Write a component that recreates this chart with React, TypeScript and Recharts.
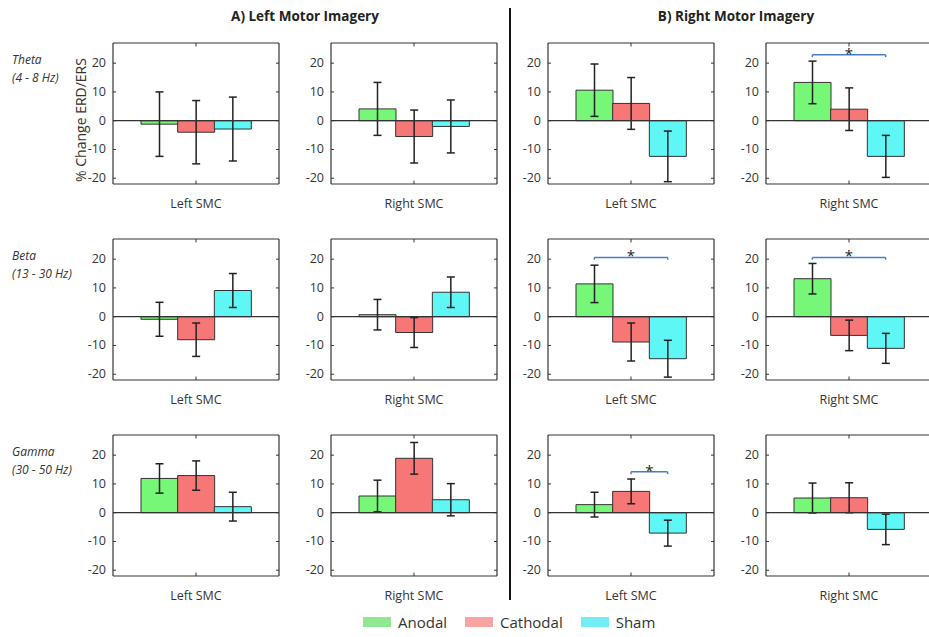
import React from 'react';
import { BarChart, Bar, XAxis, YAxis, Cell, ErrorBar, ReferenceLine } from 'recharts';

const conditions = ['Anodal', 'Cathodal', 'Sham'];
const barColors = ['#77f777', '#f77777', '#5ff6f6'];
const legendColors = ['#90e890', '#f9a3a3', '#72edf5'];

const bandNames = ['Theta', 'Beta', 'Gamma'];
const bandRanges = ['(4 - 8 Hz)', '(13 - 30 Hz)', '(30 - 50 Hz)'];
const regions = ['Left SMC', 'Right SMC', 'Left SMC', 'Right SMC'];
const yTicks = [-20, -10, 0, 10, 20];

// columns: left MI / left SMC, left MI / right SMC, right MI / left SMC, right MI / right SMC
const thetaMean = [
  [-1.2, -4.0, -2.9],
  [4.1, -5.5, -2.0],
  [10.6, 6.0, -12.4],
  [13.3, 4.0, -12.4],
];
const thetaErr = [
  [11.2, 11.0, 11.1],
  [9.2, 9.2, 9.2],
  [9.1, 9.0, 8.8],
  [7.4, 7.4, 7.3],
];
const betaMean = [
  [-0.9, -8.0, 9.1],
  [0.7, -5.5, 8.5],
  [11.4, -8.8, -14.6],
  [13.2, -6.5, -11.0],
];
const betaErr = [
  [5.9, 5.8, 5.9],
  [5.3, 5.2, 5.3],
  [6.5, 6.6, 6.4],
  [5.3, 5.3, 5.2],
];
const gammaMean = [
  [11.9, 12.9, 2.1],
  [5.8, 18.9, 4.5],
  [2.8, 7.4, -7.1],
  [5.1, 5.2, -5.8],
];
const gammaErr = [
  [5.1, 5.1, 5.0],
  [5.5, 5.5, 5.6],
  [4.3, 4.3, 4.5],
  [5.2, 5.2, 5.3],
];

const sigBrackets = [
  { row: 0, col: 3, from: 'Anodal', to: 'Sham', level: 22.9 },
  { row: 1, col: 2, from: 'Anodal', to: 'Sham', level: 20.6 },
  { row: 1, col: 3, from: 'Anodal', to: 'Sham', level: 20.6 },
  { row: 2, col: 2, from: 'Cathodal', to: 'Sham', level: 14.2 },
];

const means = [thetaMean, betaMean, gammaMean];
const errs = [thetaErr, betaErr, gammaErr];

const Y_MIN = -22;
const Y_MAX = 27;
const PLOT_W = 166;
const PLOT_H = 141;
const AXIS_W = 40;
const colLefts = [113, 331, 548, 766];
const rowTops = [43, 239, 435];
const FONT = '"Open Sans", sans-serif';
const BOX = '#333';
const BRACKET = '#4a7cc9';

const YTick = (props: any) => {
  const { y, payload } = props;
  return (
    <g>
      <text x={AXIS_W - 7} y={y} dy={4} textAnchor="end" fontSize={12.5} fill="#333" fontFamily={FONT}>
        {payload.value}
      </text>
      <line x1={AXIS_W} x2={AXIS_W + 3} y1={y} y2={y} stroke={BOX} />
      <line x1={AXIS_W + PLOT_W - 3} x2={AXIS_W + PLOT_W} y1={y} y2={y} stroke={BOX} />
    </g>
  );
};

function Panel({ row, col }: { row: number; col: number }) {
  const data = conditions.map((c, i) => ({ name: c, value: means[row][col][i], err: errs[row][col][i] }));
  const brackets = sigBrackets.filter((b) => b.row === row && b.col === col);
  return (
    <div style={{ position: 'absolute', left: colLefts[col] - AXIS_W, top: rowTops[row] - 2 }}>
      <BarChart
        width={AXIS_W + PLOT_W + 4}
        height={PLOT_H + 32}
        data={data}
        margin={{ top: 2, right: 2, left: 0, bottom: 0 }}
        barCategoryGap={0}
      >
        <XAxis
          dataKey="name"
          padding={{ left: 28, right: 28 }}
          tick={false}
          tickLine={false}
          axisLine={false}
          height={30}
          label={{ value: regions[col], position: 'insideBottom', offset: 6, fontSize: 12.5, fill: '#333', fontFamily: FONT }}
        />
        <YAxis
          width={AXIS_W}
          domain={[Y_MIN, Y_MAX]}
          ticks={yTicks}
          tick={<YTick />}
          tickLine={false}
          axisLine={{ stroke: BOX, strokeWidth: 1.2 }}
          allowDataOverflow
        />
        <YAxis
          yAxisId="right"
          orientation="right"
          width={2}
          domain={[Y_MIN, Y_MAX]}
          tick={false}
          tickLine={false}
          axisLine={{ stroke: BOX, strokeWidth: 1.2 }}
        />
        <Bar dataKey="value" stroke="#333" strokeWidth={1} isAnimationActive={false}>
          {data.map((_, i) => (
            <Cell key={`cell-${i}`} fill={barColors[i]} />
          ))}
          <ErrorBar dataKey="err" width={4} stroke="#222" strokeWidth={1.5} direction="y" />
        </Bar>
        <ReferenceLine y={0} stroke={BOX} strokeWidth={1.2} />
        <ReferenceLine y={Y_MIN} stroke={BOX} strokeWidth={1.2} />
        <ReferenceLine y={Y_MAX} stroke={BOX} strokeWidth={1.2} />
        <ReferenceLine segment={[{ x: 'Cathodal', y: Y_MIN }, { x: 'Cathodal', y: Y_MIN + 1.2 }]} stroke={BOX} />
        <ReferenceLine segment={[{ x: 'Cathodal', y: Y_MAX }, { x: 'Cathodal', y: Y_MAX - 1.2 }]} stroke={BOX} />
        {brackets.map((b, i) => (
          <ReferenceLine
            key={`br-${i}`}
            segment={[{ x: b.from, y: b.level }, { x: b.to, y: b.level }]}
            stroke={BRACKET}
            strokeWidth={1.5}
            label={{ value: '*', position: 'top', offset: -4, fontSize: 15, fill: '#222', fontFamily: FONT }}
          />
        ))}
        {brackets.map((b, i) => (
          <ReferenceLine
            key={`bl-${i}`}
            segment={[{ x: b.from, y: b.level }, { x: b.from, y: b.level - 0.8 }]}
            stroke={BRACKET}
            strokeWidth={1.5}
          />
        ))}
        {brackets.map((b, i) => (
          <ReferenceLine
            key={`brr-${i}`}
            segment={[{ x: b.to, y: b.level }, { x: b.to, y: b.level - 0.8 }]}
            stroke={BRACKET}
            strokeWidth={1.5}
          />
        ))}
      </BarChart>
    </div>
  );
}

export default function App() {
  return (
    <div
      style={{
        position: 'absolute',
        left: 0,
        top: 0,
        width: 929,
        height: 637,
        overflow: 'hidden',
        background: '#fff',
        fontFamily: FONT,
        color: '#333',
      }}
    >
      <div style={{ position: 'absolute', left: 305, top: 16, transform: 'translate(-50%, -50%)', fontWeight: 700, fontSize: 13.5, whiteSpace: 'nowrap', color: '#222' }}>
        A) Left Motor Imagery
      </div>
      <div style={{ position: 'absolute', left: 736, top: 16, transform: 'translate(-50%, -50%)', fontWeight: 700, fontSize: 13.5, whiteSpace: 'nowrap', color: '#222' }}>
        B) Right Motor Imagery
      </div>
      <div style={{ position: 'absolute', left: 509, top: 8, width: 2, height: 592, background: '#111' }} />

      {bandNames.map((name, r) => (
        <div key={name} style={{ position: 'absolute', left: 12, top: rowTops[r] + 8, fontStyle: 'italic', fontSize: 12, lineHeight: '18px', whiteSpace: 'nowrap' }}>
          <div>{name}</div>
          <div>{bandRanges[r]}</div>
        </div>
      ))}

      <div style={{ position: 'absolute', left: 80, top: 120, transform: 'translate(-50%, -50%) rotate(-90deg)', fontSize: 14, whiteSpace: 'nowrap' }}>
        % Change ERD/ERS
      </div>

      {rowTops.map((_, r) => colLefts.map((__, c) => <Panel key={`${r}-${c}`} row={r} col={c} />))}

      <div style={{ position: 'absolute', left: 363, top: 612, display: 'flex', alignItems: 'center', fontSize: 15, whiteSpace: 'nowrap' }}>
        {conditions.map((c, i) => (
          <div key={c} style={{ display: 'flex', alignItems: 'center', marginRight: 18 }}>
            <div style={{ width: 28, height: 10, background: legendColors[i], marginRight: 7 }} />
            <span>{c}</span>
          </div>
        ))}
      </div>
    </div>
  );
}
